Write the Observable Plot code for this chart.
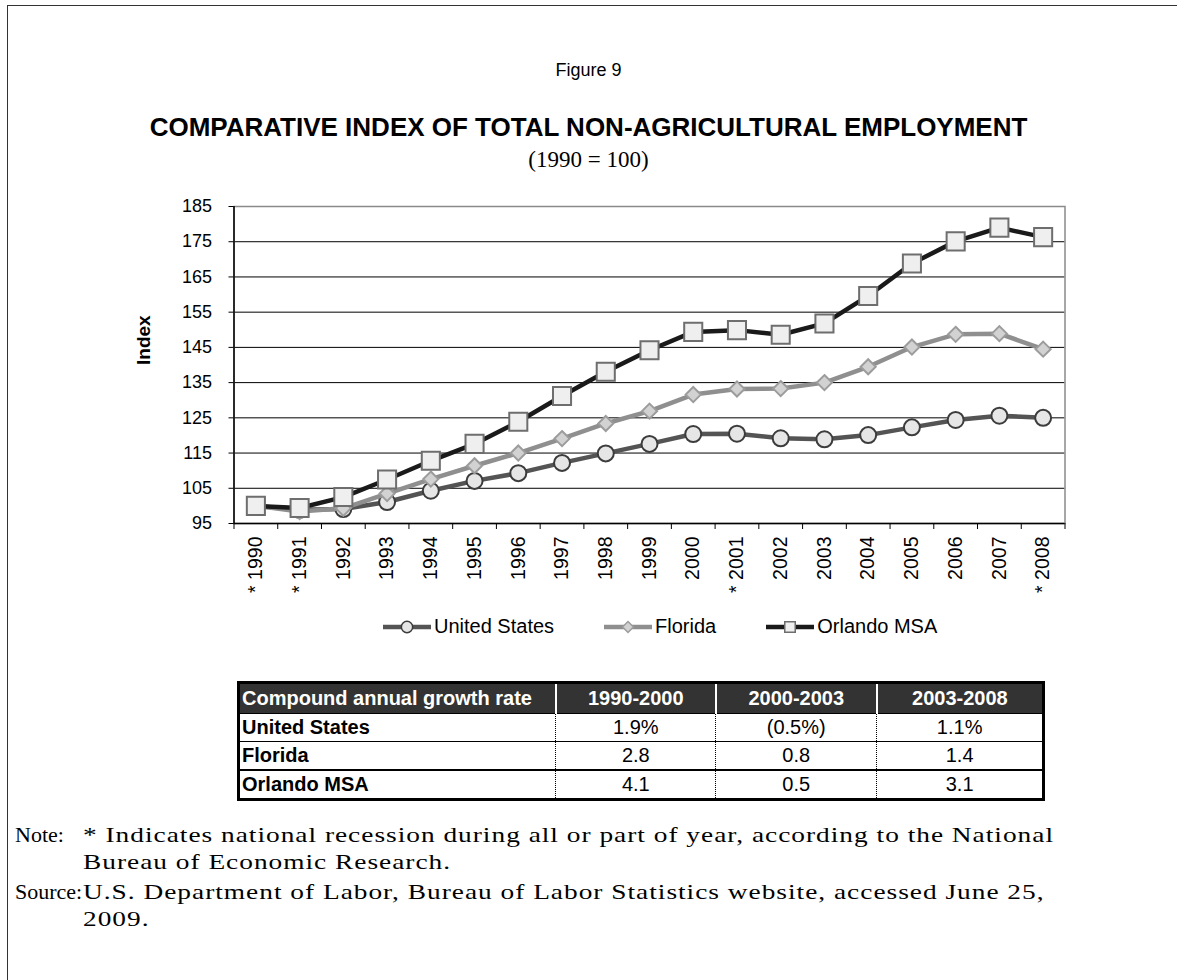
<!DOCTYPE html>
<html><head><meta charset="utf-8">
<script src="https://cdn.jsdelivr.net/npm/d3@7"></script>
<script src="https://cdn.jsdelivr.net/npm/@observablehq/plot@0.6"></script>
<style>
html,body{margin:0;padding:0;background:#fff;}
body{width:1177px;height:980px;position:relative;overflow:hidden;font-family:"Liberation Sans",Arial,sans-serif;color:#000;}
#frame{position:absolute;left:7px;top:5px;width:1200px;height:1000px;border-left:1.5px solid #333;border-top:1.5px solid #333;}
.ctr{position:absolute;left:0;width:1177px;text-align:center;white-space:nowrap;}
#fig{top:60px;font-size:18px;}
#title{top:112px;font-size:26px;font-weight:bold;}
#sub{top:147px;font-size:23px;font-family:"Liberation Serif",serif;}
#chart{position:absolute;left:0;top:190px;}
#legend{position:absolute;top:615px;left:383px;display:flex;gap:50px;align-items:center;font-size:20px;white-space:nowrap;}
#legend .it{display:flex;align-items:center;}
#tbl{position:absolute;left:237px;top:681px;width:808px;border-collapse:collapse;border:3px solid #000;font-size:20px;}
#tbl th{background:#333;color:#fff;font-weight:bold;height:29px;padding:0 4px;text-align:center;border-left:2px solid #fff;}
#tbl th:first-child{text-align:left;border-left:none;padding-left:2px;}
#tbl td{height:27px;padding:0 4px;text-align:center;border-left:1.5px dotted #000;border-top:1px solid #000;}
#tbl td:first-child{text-align:left;font-weight:bold;border-left:none;padding-left:2px;}
#tbl tr.last td{border-top:2.5px solid #000;}
.note{position:absolute;left:0;font-family:"Liberation Serif",serif;line-height:27px;white-space:nowrap;}
.note .lab{position:absolute;left:15px;top:0;font-size:22px;}
.note .txt{position:absolute;left:83px;top:0;font-size:22px;letter-spacing:0.8px;transform-origin:0 0;}
</style>
</head><body>
<div id="frame"></div>
<div id="fig" class="ctr">Figure 9</div>
<div id="title" class="ctr">COMPARATIVE INDEX OF TOTAL NON-AGRICULTURAL EMPLOYMENT</div>
<div id="sub" class="ctr">(1990 = 100)</div>
<div id="chart"></div>
<div id="legend"></div>
<table id="tbl"></table>
<div class="note" id="note1" style="top:821px"><span class="lab">Note:</span><span class="txt"><span id="fitline">* Indicates national recession during all or part of year, according to the National</span><br><span>Bureau of Economic Research.</span></span></div>
<div class="note" id="note2" style="top:878px"><span class="lab">Source:</span><span class="txt"><span>U.S. Department of Labor, Bureau of Labor Statistics website, accessed June 25,</span><br><span>2009.</span></span></div>
<script>
// ---- data ----
const years = [1990,1991,1992,1993,1994,1995,1996,1997,1998,1999,2000,2001,2002,2003,2004,2005,2006,2007,2008];
const recessionYears = [1990,1991,2001,2008];
const seriesNames = ["United States","Florida","Orlando MSA"];
const usIndex = [100,98.9,99.1,101.1,104.3,107.1,109.3,112.2,114.9,117.6,120.4,120.5,119.2,118.9,120.1,122.3,124.4,125.6,125.0];
const flIndex = [100,98.4,99.3,103.5,107.6,111.4,115.0,119.1,123.4,126.9,131.6,133.2,133.3,135.0,139.5,145.1,148.7,148.9,144.5];
const orlIndex = [100,99.4,102.5,107.5,112.8,117.6,123.9,131.2,138.1,144.2,149.4,149.9,148.6,151.8,159.6,168.8,175.1,179.0,176.3];
const yTicks = [95,105,115,125,135,145,155,165,175,185];

const tableHeader = ["Compound annual growth rate","1990-2000","2000-2003","2003-2008"];
const tableRowNames = ["United States","Florida","Orlando MSA"];
const tableUS = ["1.9%","(0.5%)","1.1%"];
const tableFL = ["2.8","0.8","1.4"];
const tableORL = ["4.1","0.5","3.1"];

// ---- styles ----
const seriesStyle = [
  {line:"#545454", symbol:"circle", r:8, fill:"#e6e6e6", mstroke:"#3c3c3c", lsize:100},
  {line:"#8f8f8f", symbol:"diamond2", r:6.8, fill:"#d2d2d2", mstroke:"#9c9c9c", lsize:75},
  {line:"#1a1a1a", symbol:"square", r:10.2, fill:"#efefef", mstroke:"#6e6e6e", lsize:110}
];
const seriesValues = [usIndex, flIndex, orlIndex];
const seriesData = seriesValues.map(vals => years.map((year,i) => ({year, value: vals[i]})));

const boundaries = years.map(y => y - 0.5).concat([years[years.length-1] + 0.5]);

const marks = [
  Plot.ruleY(yTicks.slice(1, -1), {stroke:"#000", strokeWidth:1}),
  Plot.frame({stroke:"#8a8a8a", strokeWidth:1.5}),
  Plot.ruleX([boundaries[0]], {stroke:"#000", strokeWidth:1.5}),
  Plot.ruleY([yTicks[0]], {stroke:"#000", strokeWidth:1.5}),
  Plot.axisY(yTicks, {tickSize:5, tickPadding:17, label:null, fontSize:18}),
  Plot.axisX(boundaries, {tickSize:6, tickFormat:() => "", label:null}),
  Plot.axisX(years, {tickSize:0, tickPadding:13, tickRotate:-90, label:null, fontSize:19.5,
    tickFormat: d => (recessionYears.includes(d) ? "* " : "") + d}),
  Plot.text(["Index"], {frameAnchor:"left", dx:-90, rotate:-90, fontWeight:"bold", fontSize:19})
];
seriesData.forEach((d, i) => {
  const s = seriesStyle[i];
  marks.push(Plot.line(d, {x:"year", y:"value", stroke:s.line, strokeWidth:4.5}));
  marks.push(Plot.dot(d, {x:"year", y:"value", symbol:s.symbol, r:s.r, fill:s.fill, stroke:s.mstroke, strokeWidth:2}));
});

const chart = Plot.plot({
  width:1177, height:420,
  marginLeft:233.5, marginRight:112.5, marginTop:16, marginBottom:87,
  x:{domain:[boundaries[0], boundaries[boundaries.length-1]], label:null},
  y:{domain:[yTicks[0], yTicks[yTicks.length-1]], label:null},
  style:{fontFamily:'"Liberation Sans", Arial, sans-serif', fontSize:"18px", background:"transparent", color:"#000"},
  marks
});
document.getElementById("chart").appendChild(chart);

// ---- legend ----
const legend = d3.select("#legend");
const symbolTypes = {circle:d3.symbolCircle, diamond2:d3.symbolDiamond2, square:d3.symbolSquare};
seriesNames.forEach((name, i) => {
  const s = seriesStyle[i];
  const it = legend.append("div").attr("class","it");
  const sv = it.append("svg").attr("width",48).attr("height",20);
  sv.append("line").attr("x1",0).attr("x2",48).attr("y1",10).attr("y2",10).attr("stroke",s.line).attr("stroke-width",4.5);
  sv.append("path").attr("transform","translate(24,10)").attr("d", d3.symbol(symbolTypes[s.symbol], s.lsize)())
    .attr("fill",s.fill).attr("stroke",s.mstroke).attr("stroke-width",1.5);
  it.append("span").style("margin-left","3px").text(name);
});

// ---- table ----
const tbl = d3.select("#tbl");
const colW = [326,158,159,165];
tbl.append("thead").append("tr").selectAll("th").data(tableHeader).join("th")
  .style("width",(d,i)=>colW[i]+"px").text(d=>d);
const body = tbl.append("tbody");
[tableUS, tableFL, tableORL].forEach((vals, i) => {
  const tr = body.append("tr").attr("class", i === 2 ? "last" : null);
  tr.append("td").text(tableRowNames[i]);
  vals.forEach(v => tr.append("td").text(v));
});

// ---- notes: widen the serif text so the first line spans the reference's width ----
const fit = document.getElementById("fitline");
const w = fit.getBoundingClientRect().width;
const sx = 971 / w;
document.querySelectorAll(".note .txt").forEach(n => n.style.transform = `scaleX(${sx})`);
</script>
</body></html>
